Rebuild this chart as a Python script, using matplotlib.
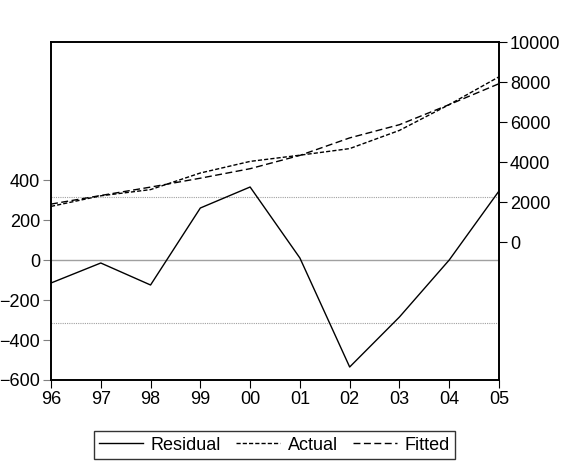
import matplotlib.pyplot as plt
import numpy as np

plt.rcParams['font.family'] = ['Liberation Sans', 'DejaVu Sans']

years = ["96", "97", "98", "99", "00", "01", "02", "03", "04", "05"]
actual = [1780, 2310, 2620, 3450, 4030, 4340, 4670, 5580, 6870, 8260]
fitted = [1895, 2325, 2745, 3190, 3665, 4330, 5205, 5865, 6870, 7915]
residual = [a - f for a, f in zip(actual, fitted)]
resid_sd = 317

x = np.arange(len(years))

fig = plt.figure(figsize=(5.64, 4.71), dpi=100)
ax = fig.add_axes([51 / 564, 1 - 380 / 471, 448 / 564, 338 / 471])
ax2 = ax.twinx()

# residual on the left scale
ax.axhline(0, color='#a0a0a0', lw=1.0)
ax.axhline(resid_sd, color='#a0a0a0', lw=0.8, ls=(0, (1, 1)))
ax.axhline(-resid_sd, color='#a0a0a0', lw=0.8, ls=(0, (1, 1)))
l1, = ax.plot(x, residual, color='black', lw=1.0, label='Residual')

# actual / fitted on the right scale
l2, = ax2.plot(x, actual, color='black', lw=1.0, ls=(0, (3, 1.5)), label='Actual')
l3, = ax2.plot(x, fitted, color='black', lw=1.0, ls=(0, (5, 2.5)), label='Fitted')

ax.set_xlim(0, len(years) - 1)
ax.set_ylim(-600, 1090)
ax.set_yticks([-600, -400, -200, 0, 200, 400])
ax2.set_ylim(-6900, 10000)
ax2.set_yticks([0, 2000, 4000, 6000, 8000, 10000])
ax.set_xticks(x)
ax.set_xticklabels(years)

for a in (ax, ax2):
    a.tick_params(labelsize=13, length=6, width=0.8, direction='out', pad=2)
    for s in a.spines.values():
        s.set_linewidth(1.2)
ax.tick_params(axis='y', colors='#808080', labelcolor='black')

fig.legend(handles=[l1, l2, l3], loc='center', bbox_to_anchor=(0.487, 0.055),
           ncol=3, fontsize=13, frameon=True, fancybox=False, edgecolor='black',
           handlelength=2.4, columnspacing=0.85, handletextpad=0.45,
           borderpad=0.3, borderaxespad=0)
fig.legends[0].get_frame().set_linewidth(1.0)

fig.savefig('out.png', dpi=100)
